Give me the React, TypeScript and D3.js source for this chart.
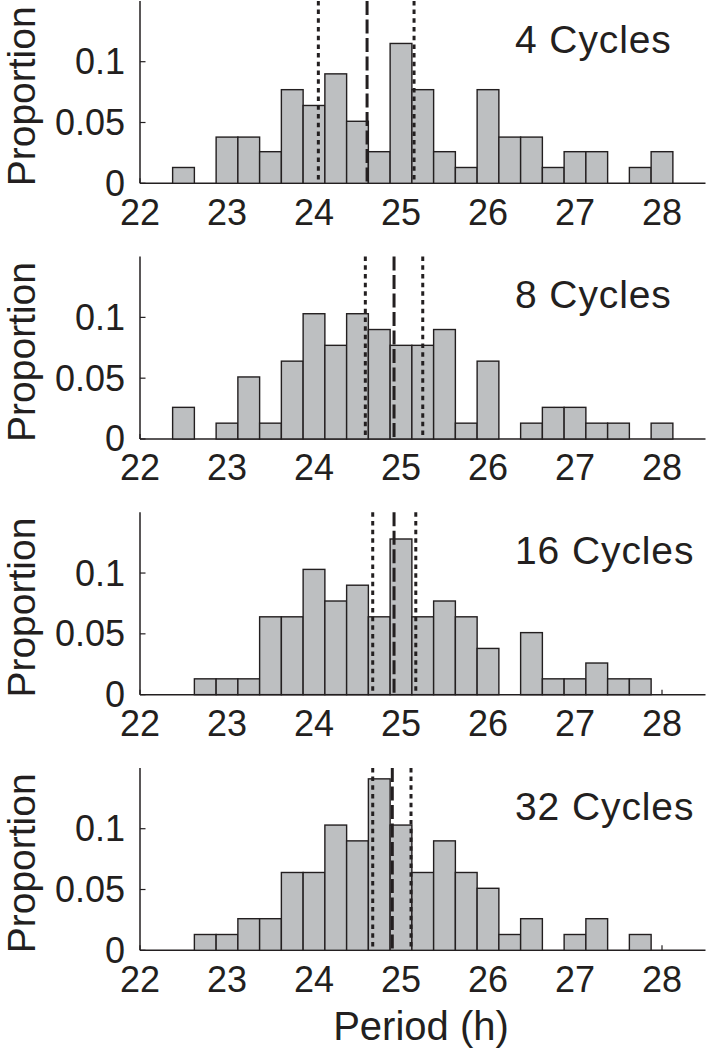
import React from "react";
import * as d3 from "d3";

// ---- Data ----
const binCenters = [22.5, 22.75, 23.0, 23.25, 23.5, 23.75, 24.0, 24.25, 24.5, 24.75, 25.0, 25.25, 25.5, 25.75, 26.0, 26.25, 26.5, 26.75, 27.0, 27.25, 27.5, 27.75, 28.0];
const binWidth = 0.25;

const cycles4 = [0.013, 0, 0.038, 0.038, 0.026, 0.077, 0.064, 0.090, 0.051, 0.026, 0.115, 0.077, 0.026, 0.013, 0.077, 0.038, 0.038, 0.013, 0.026, 0.026, 0, 0.013, 0.026];
const cycles8 = [0.026, 0, 0.013, 0.051, 0.013, 0.064, 0.103, 0.077, 0.103, 0.090, 0.077, 0.077, 0.090, 0.013, 0.064, 0, 0.013, 0.026, 0.026, 0.013, 0.013, 0, 0.013];
const cycles16 = [0, 0.013, 0.013, 0.013, 0.064, 0.064, 0.103, 0.077, 0.090, 0.064, 0.128, 0.064, 0.077, 0.064, 0.038, 0, 0.051, 0.013, 0.013, 0.026, 0.013, 0.013, 0];
const cycles32 = [0, 0.013, 0.013, 0.026, 0.026, 0.064, 0.064, 0.103, 0.090, 0.141, 0.103, 0.064, 0.090, 0.064, 0.051, 0.013, 0.026, 0, 0.013, 0.026, 0, 0.013, 0];

const panelLabels = ["4 Cycles", "8 Cycles", "16 Cycles", "32 Cycles"];
const panelValues = [cycles4, cycles8, cycles16, cycles32];
const lowerCI = [24.05, 24.59, 24.675, 24.675];
const meanPeriod = [24.61, 24.92, 24.92, 24.9];
const upperCI = [25.15, 25.25, 25.17, 25.115];

const xTicks = [22, 23, 24, 25, 26, 27, 28];
const yTicks = [0, 0.05, 0.1];
const yTickLabels = ["0", "0.05", "0.1"];

// ---- Layout ----
const W = 707;
const H = 1050;
const firstBase = 183.3;
const panelStep = 255.67;
const plotH = 182.4;
const ink = "#231f20";
const barFill = "#bdbfc1";
const font = "'Liberation Sans', Arial, Helvetica, sans-serif";

const x = d3.scaleLinear().domain([22, 28.5]).range([140, 705.5]);

function Panel({ idx }: { idx: number }) {
  const base = firstBase + idx * panelStep;
  const y = d3.scaleLinear().domain([0, 0.15]).range([base, base - plotH]);
  const values = panelValues[idx];
  const bars = binCenters
    .map((c, i) => ({ c, v: values[i] }))
    .filter((d) => d.v > 0);
  const top = y(0.15);
  const vlines = [
    { v: lowerCI[idx], dash: "4.5,4.2" },
    { v: meanPeriod[idx], dash: "14,4.5" },
    { v: upperCI[idx], dash: "4.5,4.2" },
  ];
  return (
    <g>
      {/* axes */}
      <line x1={x(22)} x2={x(22)} y1={top} y2={base} stroke={ink} strokeWidth={1.5} />
      <line x1={x(22)} x2={x(28.5)} y1={base} y2={base} stroke={ink} strokeWidth={1.5} />
      {xTicks.map((t) => (
        <line key={"xt" + t} x1={x(t)} x2={x(t)} y1={base} y2={base - 5} stroke={ink} strokeWidth={1.2} />
      ))}
      {yTicks.map((t) => (
        <line key={"yt" + t} x1={x(22)} x2={x(22) + 5.5} y1={y(t)} y2={y(t)} stroke={ink} strokeWidth={1.2} />
      ))}
      {/* bars */}
      {bars.map((d) => (
        <rect
          key={"b" + d.c}
          x={x(d.c - binWidth / 2)}
          y={y(d.v)}
          width={x(d.c + binWidth / 2) - x(d.c - binWidth / 2)}
          height={base - y(d.v)}
          fill={barFill}
          stroke={ink}
          strokeWidth={1.4}
        />
      ))}
      {/* vertical statistic lines */}
      {vlines.map((l, i) => (
        <line
          key={"v" + i}
          x1={x(l.v)}
          x2={x(l.v)}
          y1={top}
          y2={base}
          stroke={ink}
          strokeWidth={3}
          strokeDasharray={l.dash}
        />
      ))}
      {/* tick labels */}
      {xTicks.map((t) => (
        <text key={"xl" + t} x={x(t)} y={base + 41.5} textAnchor="middle" fontSize={36} fill={ink} fontFamily={font}>
          {t}
        </text>
      ))}
      {yTicks.map((t, i) => (
        <text key={"yl" + t} x={125} y={y(t) + 12.5} textAnchor="end" fontSize={36} fill={ink} fontFamily={font}>
          {yTickLabels[i]}
        </text>
      ))}
      <text x={515} y={base - 130.6} fontSize={39} letterSpacing={0.9} fill={ink} fontFamily={font}>
        {panelLabels[idx]}
      </text>
      <text
        transform={`translate(35, ${base - 87}) rotate(-90)`}
        textAnchor="middle"
        fontSize={39}
        fill={ink}
        fontFamily={font}
      >
        Proportion
      </text>
    </g>
  );
}

export default function App() {
  return (
    <svg
      width={W}
      height={H}
      viewBox={`0 0 ${W} ${H}`}
      style={{ position: "absolute", left: 0, top: 0, display: "block", background: "#fff" }}
    >
      <rect x={0} y={0} width={W} height={H} fill="#fff" />
      {panelLabels.map((_, i) => (
        <Panel key={i} idx={i} />
      ))}
      <text x={421} y={1040} textAnchor="middle" fontSize={40} fill={ink} fontFamily={font}>
        Period (h)
      </text>
    </svg>
  );
}
